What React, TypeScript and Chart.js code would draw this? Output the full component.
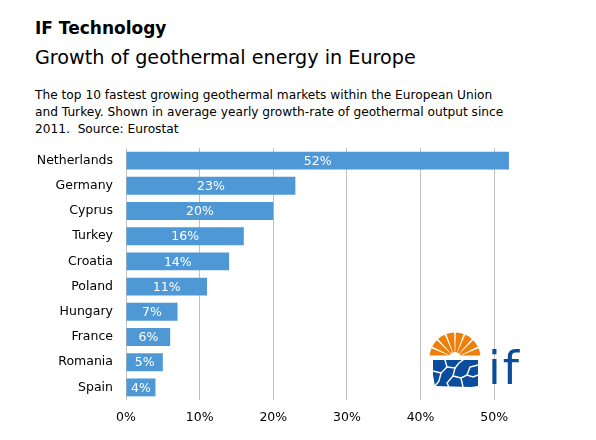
import React, { useEffect, useRef } from "react";
import { Chart, registerables } from "chart.js";

Chart.register(...registerables);

const categories = ["Netherlands", "Germany", "Cyprus", "Turkey", "Croatia", "Poland", "Hungary", "France", "Romania", "Spain"];
const growth = [52, 23, 20, 16, 14, 11, 7, 6, 5, 4];
const xTicks = [0, 10, 20, 30, 40, 50];

const FONT = '"DejaVu Sans", "Noto Sans", sans-serif';
const BAR = "#4F98D6";

const valueLabels = {
  id: "valueLabels",
  afterDatasetsDraw(chart: any) {
    const ctx = chart.ctx;
    const meta = chart.getDatasetMeta(0);
    ctx.save();
    ctx.fillStyle = "#ffffff";
    ctx.font = `12.5px ${FONT}`;
    ctx.textAlign = "center";
    ctx.textBaseline = "middle";
    meta.data.forEach((bar: any, i: number) => {
      const p = bar.getProps(["x", "y", "base"], true);
      ctx.fillText(growth[i] + "%", (p.x + p.base) / 2, p.y + 1);
    });
    ctx.restore();
  },
};

function Logo() {
  const cx = 30, cy = 27, r = 25.5, n = 8;
  const start = 183, end = 357, gap = 4;
  const step = (end - start) / n;
  const wedges = [];
  for (let i = 0; i < n; i++) {
    const a0 = ((start + i * step + gap / 2) * Math.PI) / 180;
    const a1 = ((start + (i + 1) * step - gap / 2) * Math.PI) / 180;
    const x0 = cx + r * Math.cos(a0), y0 = cy + r * Math.sin(a0);
    const x1 = cx + r * Math.cos(a1), y1 = cy + r * Math.sin(a1);
    wedges.push(<path key={i} d={`M${cx},${cy} L${x0},${y0} A${r},${r} 0 0 1 ${x1},${y1} Z`} fill="#F07F0A" />);
  }
  return (
    <svg width={110} height={64} style={{ position: "absolute", left: 425, top: 331 }}>
      <defs>
        <clipPath id="sunclip"><rect x={0} y={0} width={70} height={24.5} /></clipPath>
      </defs>
      <g clipPath="url(#sunclip)">{wedges}</g>
      <circle cx={cx} cy={cy} r={6} fill="#fff" />
      <path d="M8,29 L53,29 L53,55 L46,56 L10,55 L8,44 Z" fill="#0C4C9C" />
      <g stroke="#fff" strokeWidth={1.4} fill="none" strokeLinecap="round">
        <path d="M20,29 L22,36 L16,42 L14,50 L10,55" />
        <path d="M22,36 L30,37 L34,32 L38,29" />
        <path d="M30,37 L28,45 L22,52 L24,56" />
        <path d="M28,45 L36,47 L42,44 L48,46 L53,44" />
        <path d="M36,47 L38,56" />
        <path d="M42,44 L45,36 L53,34" />
        <path d="M8,40 L16,42" />
      </g>
      <text x={63} y={53} fill="#0C4C9C" style={{ font: `46px ${FONT}`, letterSpacing: "2px" }}>if</text>
    </svg>
  );
}

export default function App() {
  const ref = useRef<HTMLCanvasElement | null>(null);

  useEffect(() => {
    if (!ref.current) return;
    const chart = new Chart(ref.current, {
      type: "bar",
      data: {
        labels: categories,
        datasets: [
          {
            data: growth,
            backgroundColor: BAR,
            barPercentage: 0.71,
            categoryPercentage: 1,
          },
        ],
      },
      options: {
        indexAxis: "y",
        responsive: false,
        animation: false,
        layout: { padding: { top: 148, right: 65, bottom: 0, left: 0 } },
        plugins: { legend: { display: false }, tooltip: { enabled: false } },
        scales: {
          x: {
            min: 0,
            max: 55,
            afterBuildTicks: (s: any) => {
              s.ticks = xTicks.map((v) => ({ value: v }));
            },
            afterFit: (s: any) => {
              s.height = 40;
            },
            grid: { color: "#C0C0C0", lineWidth: 1, drawTicks: false },
            border: { display: false },
            ticks: {
              padding: 10,
              color: "#000",
              font: { family: FONT, size: 12.5 },
              callback: (v: any) => v + "%",
            },
          },
          y: {
            afterFit: (s: any) => {
              s.width = 126;
            },
            grid: { display: false, drawTicks: false },
            border: { display: false },
            ticks: { padding: 13, color: "#000", font: { family: FONT, size: 12.5 } },
          },
        },
      },
      plugins: [valueLabels],
    } as any);
    return () => chart.destroy();
  }, []);

  return (
    <div style={{ position: "absolute", left: 0, top: 0, width: 596, height: 440, background: "#fff", fontFamily: FONT, color: "#000" }}>
      <div style={{ position: "absolute", left: 35, top: 20, fontSize: 17, fontWeight: "bold", lineHeight: "17px", whiteSpace: "nowrap" }}>
        IF Technology
      </div>
      <div style={{ position: "absolute", left: 35, top: 48, fontSize: 19.2, lineHeight: "19px", whiteSpace: "nowrap" }}>
        Growth of geothermal energy in Europe
      </div>
      <div style={{ position: "absolute", left: 35, top: 87, fontSize: 12.2, lineHeight: "17px", whiteSpace: "nowrap" }}>
        The top 10 fastest growing geothermal markets within the European Union
        <br />
        and Turkey. Shown in average yearly growth-rate of geothermal output since
        <br />
        2011.&nbsp; Source: Eurostat
      </div>
      <canvas ref={ref} width={596} height={440} style={{ position: "absolute", left: 0, top: 0 }} />
      <Logo />
    </div>
  );
}
